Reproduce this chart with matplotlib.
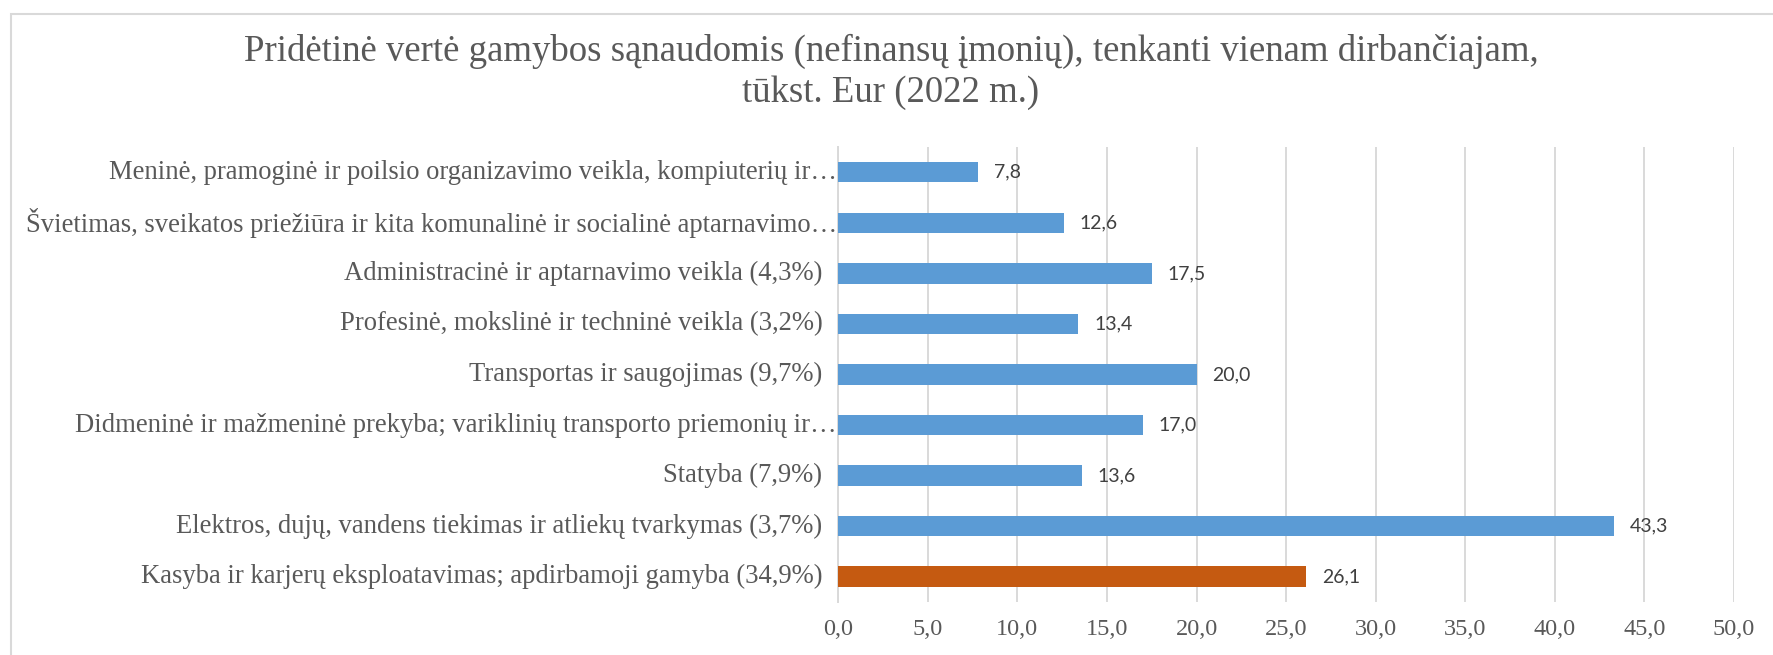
import matplotlib.pyplot as plt
import numpy as np
from matplotlib.ticker import FuncFormatter, MultipleLocator
from matplotlib.patches import Rectangle

# data, top to bottom as in the chart
categories = [
    "Meninė, pramoginė ir poilsio organizavimo veikla, kompiuterių ir…",
    "Švietimas, sveikatos priežiūra ir kita komunalinė ir socialinė aptarnavimo…",
    "Administracinė ir aptarnavimo veikla (4,3%)",
    "Profesinė, mokslinė ir techninė veikla (3,2%)",
    "Transportas ir saugojimas (9,7%)",
    "Didmeninė ir mažmeninė prekyba; variklinių transporto priemonių ir…",
    "Statyba (7,9%)",
    "Elektros, dujų, vandens tiekimas ir atliekų tvarkymas (3,7%)",
    "Kasyba ir karjerų eksploatavimas; apdirbamoji gamyba (34,9%)",
]
values = [7.8, 12.6, 17.5, 13.4, 20.0, 17.0, 13.6, 43.3, 26.1]
highlight = "Kasyba ir karjerų eksploatavimas; apdirbamoji gamyba (34,9%)"

title = "Pridėtinė vertė gamybos sąnaudomis (nefinansų įmonių), tenkanti vienam dirbančiajam,\ntūkst. Eur (2022 m.)"

blue = "#5B9BD5"
orange = "#C55A11"
grid_c = "#D9D9D9"
txt_c = "#595959"

fig = plt.figure(figsize=(17.73, 6.55), dpi=100)
ax = fig.add_axes([0.4728, 0.0809, 0.5052, 0.6947])

y = np.arange(len(categories))
colors = [orange if c == highlight else blue for c in categories]
bars = ax.barh(y, values, height=0.405, color=colors, zorder=3)

ax.set_ylim(len(categories) - 0.5, -0.5)
ax.set_xlim(0, 50)
ax.xaxis.set_major_locator(MultipleLocator(5))
ax.xaxis.set_major_formatter(FuncFormatter(lambda v, p: f"{v:.1f}".replace(".", ",")))
ax.set_yticks(y)
ax.set_yticklabels([])

ax.grid(axis="x", color=grid_c, linewidth=1.4, zorder=0)
for s in ["top", "right", "bottom"]:
    ax.spines[s].set_visible(False)
ax.spines["left"].set_color(grid_c)
ax.spines["left"].set_linewidth(1.4)
ax.tick_params(length=0)
ax.tick_params(axis="x", pad=12, labelsize=17.5, labelcolor=txt_c)
for lab in ax.get_xticklabels():
    lab.set_fontfamily("Liberation Serif")

# category labels (truncated ones run up to the axis, like Excel does)
for yi, c in zip(y, categories):
    off = -1 if c.endswith("…") else -11.5
    ax.annotate(c, (0, yi), xycoords=("axes fraction", "data"), xytext=(off, 0),
                textcoords="offset points", ha="right", va="center",
                fontsize=19.2, color=txt_c, family="Liberation Serif")

# value labels
for b, v in zip(bars, values):
    ax.annotate(f"{v:.1f}".replace(".", ","), (b.get_width(), b.get_y() + b.get_height() / 2),
                xytext=(11.5, 0), textcoords="offset points", va="center", ha="left",
                fontsize=14, color="#404040", family="Lato")

fig.text(0.5025, 0.8904, title, ha="center", va="center", fontsize=26.5,
         color=txt_c, family="Liberation Serif", linespacing=1.27)

# chart area border (cut off at right and bottom)
fig.patches.append(Rectangle((11, -100), 1800, 741, transform=None, fill=False,
                             edgecolor=grid_c, linewidth=1.5))

plt.savefig("out.png", dpi=100)
